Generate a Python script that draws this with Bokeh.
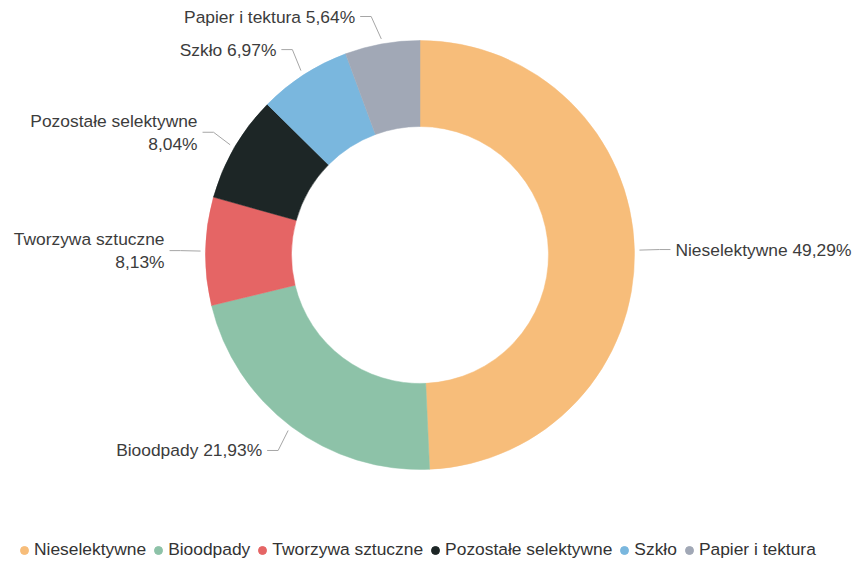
import math
import numpy as np
from bokeh.plotting import figure
from bokeh.models import Range1d, Legend, LegendItem, ColumnDataSource
from bokeh.core.properties import value
from bokeh.embed import file_html
from bokeh.resources import INLINE

# ---- data ----
categories = ["Nieselektywne", "Bioodpady", "Tworzywa sztuczne",
              "Pozostałe selektywne", "Szkło", "Papier i tektura"]
shares = [49.29, 21.93, 8.13, 8.04, 6.97, 5.64]
colors = ["#F7BD7A", "#8DC2A8", "#E56565", "#1D2626", "#7AB7DE", "#A1A8B6"]

# ---- layout / style ----
W, H = 856, 563
CX, CY = 419.5, 308.5
R_OUT, R_IN = 214.5, 128.5
LABEL_DIST = 30
FONT = "Liberation Sans"
FS = "17.4px"
LABEL_COLOR = "#3c3c3c"
LINE_COLOR = "#a6a6a6"

p = figure(width=W, height=H, x_range=Range1d(0, W), y_range=Range1d(0, H),
           output_backend="svg", toolbar_location=None, min_border=0,
           x_axis_location=None, y_axis_location=None)
p.grid.visible = False
p.outline_line_color = None
p.background_fill_color = "white"
p.border_fill_color = "white"

total = sum(shares)
fr = np.cumsum([0.0] + shares) / total
start = np.pi / 2 - 2 * np.pi * fr[:-1]
end = np.pi / 2 - 2 * np.pi * fr[1:]
src = ColumnDataSource(dict(start=start, end=end, color=colors, cat=categories))
p.annular_wedge(x=CX, y=CY, inner_radius=R_IN, outer_radius=R_OUT,
                start_angle="start", end_angle="end", direction="clock",
                fill_color="color", line_color="color", line_width=0.5, source=src)

# ---- data labels with connectors ----
R_L = R_OUT + LABEL_DIST
left_lab = dict(x=[], y=[], t=[])
right_lab = dict(x=[], y=[], t=[])
xs, ys = [], []
for f0, f1, cat, v in zip(fr[:-1], fr[1:], categories, shares):
    th = 2 * np.pi * (f0 + f1) / 2
    s, c = math.sin(th), math.cos(th)
    right = s > 0
    ex, ey = CX + (R_OUT + 5) * s, CY + (R_OUT + 5) * c
    yl = min(CY + R_L * c, H - 16)
    dx = math.sqrt(max(R_L ** 2 - (yl - CY) ** 2, 0.0)) + 6
    ax = CX + dx if right else CX - dx
    kx = ax - 11 if right else ax + 11
    xs.append([ax, kx, ex])
    ys.append([yl, yl, ey])
    txt = f"{cat} {v:.2f}".replace(".", ",") + "%"
    avail = (W - (ax + 5)) if right else (ax - 5)
    if len(txt) * 8.0 > avail:
        i = txt.rfind(" ")
        txt = txt[:i] + "\n" + txt[i + 1:]
    d = right_lab if right else left_lab
    d["x"].append(ax + 5 if right else ax - 5)
    d["y"].append(yl)
    d["t"].append(txt)

p.multi_line(xs=xs, ys=ys, line_color=LINE_COLOR, line_width=1)
p.text(x="x", y="y", text="t", source=ColumnDataSource(left_lab),
       text_align="right", text_baseline="middle", text_font=value(FONT),
       text_font_size=FS, text_color=LABEL_COLOR, text_line_height=1.15)
p.text(x="x", y="y", text="t", source=ColumnDataSource(right_lab),
       text_align="left", text_baseline="middle", text_font=value(FONT),
       text_font_size=FS, text_color=LABEL_COLOR, text_line_height=1.15)

# ---- legend ----
items = []
for cat, col in zip(categories, colors):
    r = p.scatter(x=[np.nan], y=[np.nan], marker="circle", size=8,
                  fill_color=col, line_color=col)
    items.append(LegendItem(label=cat, renderers=[r]))
legend = Legend(items=items, orientation="horizontal", location=(14, 3),
                glyph_width=20, glyph_height=20, label_standoff=-2, spacing=2,
                padding=0, margin=0, border_line_color=None,
                background_fill_alpha=0, label_text_font=FONT,
                label_text_font_size=FS, label_text_color="#333333",
                label_height=20, label_text_baseline="middle")
p.add_layout(legend, "center")

open("out.html", "w").write(file_html(p, INLINE))
